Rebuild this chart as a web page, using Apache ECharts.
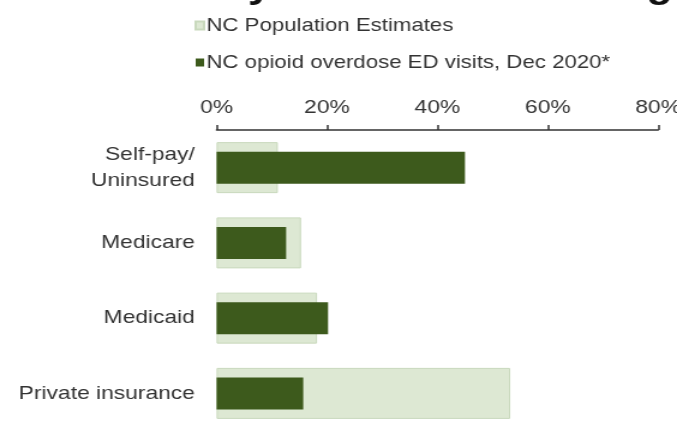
<!DOCTYPE html>
<html>
<head>
<meta charset="utf-8">
<script src="https://cdn.jsdelivr.net/npm/echarts@6/dist/echarts.min.js"></script>
<style>
  html, body { margin: 0; padding: 0; background: #fff; overflow: hidden; }
  /* the source picture is stretched sideways, so the chart is drawn narrower and scaled out to 677px */
  #chart { width: 564px; height: 440px; transform: scaleX(1.2004); transform-origin: 0 0; }
</style>
</head>
<body>
<div id="chart"></div>
<script>
const categories = ['Self-pay/\nUninsured', 'Medicare', 'Medicaid', 'Private insurance']
const populationEstimates = [11.1, 15.3, 18.2, 53.2]
const edVisits = [45.0, 12.6, 20.2, 15.7]
const tickLabels = ['0%', '20%', '40%', '60%', '80%']

const font = 'Liberation Sans, Arial, sans-serif'

const option = {
  animation: false,
  title: {
    text: 'Visits by Insurance Coverage',
    left: 74,
    top: -36,
    textStyle: { fontFamily: font, fontSize: 36, fontWeight: 'bold', color: '#111' }
  },
  legend: {
    orient: 'vertical',
    left: 157,
    top: 10,
    itemWidth: 7,
    itemHeight: 8,
    itemGap: 16,
    icon: 'rect',
    textStyle: { fontFamily: font, fontSize: 18.5, lineHeight: 21, color: '#333', padding: [0, 0, 0, -3] },
    data: ['NC Population Estimates', 'NC opioid overdose ED visits, Dec 2020*']
  },
  grid: { left: 180.4, right: 15.7, top: 130, height: 301, outerBoundsMode: 'none', containLabel: false },
  xAxis: {
    type: 'value',
    position: 'top',
    min: 0,
    max: 80,
    interval: 20,
    axisLine: { show: true, lineStyle: { color: '#333', width: 1.5 } },
    axisTick: { show: true, length: 5, lineStyle: { color: '#333', width: 1.5 } },
    splitLine: { show: false },
    axisLabel: {
      margin: 13,
      fontFamily: font,
      fontSize: 19,
      color: '#333',
      formatter: v => tickLabels[v / 20]
    }
  },
  yAxis: [
    {
      type: 'category',
      inverse: true,
      data: categories,
      axisLine: { show: false },
      axisTick: { show: false },
      axisLabel: { margin: 18, fontFamily: font, fontSize: 19, lineHeight: 26, color: '#333', align: 'right' }
    },
    {
      type: 'category',
      inverse: true,
      data: categories,
      show: false
    }
  ],
  series: [
    {
      name: 'NC Population Estimates',
      type: 'bar',
      yAxisIndex: 0,
      data: populationEstimates,
      barWidth: 51,
      itemStyle: { color: '#dde8d3', borderColor: '#c9d9bd', borderWidth: 1 }
    },
    {
      name: 'NC opioid overdose ED visits, Dec 2020*',
      type: 'bar',
      yAxisIndex: 1,
      data: edVisits,
      barWidth: 32,
      itemStyle: { color: '#3d5a1c' }
    }
  ]
}

const chart = echarts.init(document.getElementById('chart'))
chart.setOption(option)
</script>
</body>
</html>
